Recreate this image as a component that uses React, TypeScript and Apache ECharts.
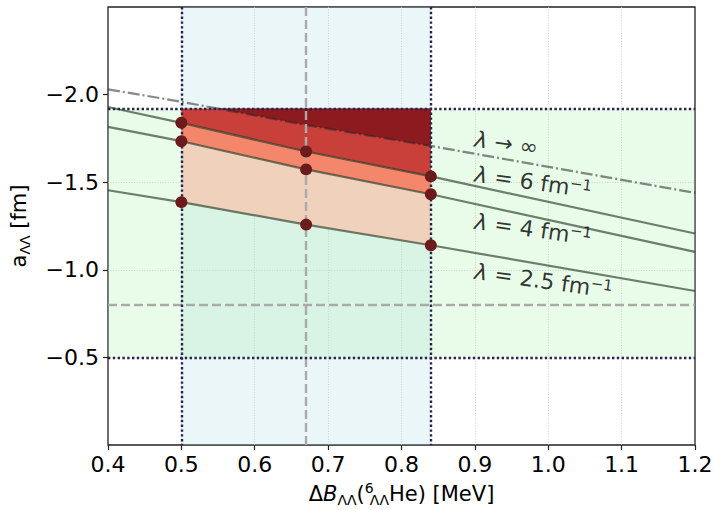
import React, { useEffect, useRef } from "react";
import * as echarts from "echarts";

// ---- data ----
const lineX = [0.4, 0.5, 0.67, 0.84, 1.2];
const lambda25 = [-1.454, -1.386, -1.258, -1.14, -0.879];
const lambda4 = [-1.816, -1.734, -1.573, -1.431, -1.102];
const lambda6 = [-1.929, -1.839, -1.675, -1.533, -1.207];
const lambdaInf = [-2.03, -1.959, -1.826, -1.707, -1.439];

const pointX = [0.5, 0.67, 0.84];
const points25 = [-1.386, -1.258, -1.14];
const points4 = [-1.734, -1.573, -1.431];
const points6 = [-1.839, -1.675, -1.533];
const pointsInf = [-1.959, -1.826, -1.707];

const bRange = [0.5, 0.84];
const bCentral = 0.67;
const aRange = [-1.92, -0.5];
const aCentral = -0.8;

const yTickValues = [-2.0, -1.5, -1.0, -0.5];

const curveLabelX = [0.9, 0.9, 0.9, 0.9];
const curveLabelY = [-1.746, -1.546, -1.277, -0.991];
const curveLabelText = [
  "{l|λ} → ∞",
  "{l|λ} = 6 fm{p|−1}",
  "{l|λ} = 4 fm{p|−1}",
  "{l|λ} = 2.5 fm{p|−1}",
];

const FONT = "DejaVu Sans";

function between(xs: number[], top: number[], bottom: number[]) {
  const upper = xs.map((x, i) => [x, top[i]]);
  const lower = xs.map((x, i) => [x, bottom[i]]).reverse();
  return upper.concat(lower);
}

// region between a level and a curve, only where the curve lies below the level (larger value)
function belowLevel(xs: number[], ys: number[], level: number) {
  const pts: number[][] = [];
  for (let i = 0; i < xs.length; i++) {
    if (i > 0) {
      const y0 = ys[i - 1];
      const y1 = ys[i];
      if ((y0 - level) * (y1 - level) < 0) {
        const t = (level - y0) / (y1 - y0);
        pts.push([xs[i - 1] + t * (xs[i] - xs[i - 1]), level]);
      }
    }
    if (ys[i] >= level) pts.push([xs[i], ys[i]]);
  }
  if (!pts.length) return pts;
  const first = pts[0][0];
  const last = pts[pts.length - 1][0];
  pts.push([last, level]);
  if (pts[0][1] !== level) pts.push([first, level]);
  return pts;
}

const topLevel = pointX.map(() => aRange[0]);

const fills = [
  { color: "#efd1bc", pts: between(pointX, points4, points25) },
  { color: "#f3866b", pts: between(pointX, points6, points4) },
  { color: "#c9403a", pts: between(pointX, topLevel, points6) },
  { color: "#8c1a1f", pts: belowLevel(pointX, pointsInf, aRange[0]) },
];

const subStyle = { fontSize: 14, lineHeight: 14, verticalAlign: "bottom", fontFamily: FONT, color: "#000" };
const mainStyle = { fontSize: 21, lineHeight: 26, fontFamily: FONT, color: "#000" };

export default function App() {
  const ref = useRef<HTMLDivElement>(null);
  useEffect(() => {
    if (!ref.current) return;
    const chart = echarts.init(ref.current, undefined, { renderer: "svg" });
    const dotted = { color: "#24244e", width: 2.4, type: [2.4, 2.4] };
    const dashed = { color: "#aaaaaa", width: 2.4, type: [9, 4] };
    const curveStyle = { color: "rgba(40,60,40,0.65)", width: 2.2 };
    chart.setOption({
      animation: false,
      backgroundColor: "#ffffff",
      grid: {
        left: 108,
        right: 19,
        top: 7,
        bottom: 65,
        containLabel: false,
        outerBoundsMode: "none",
        show: true,
        borderColor: "#222",
        borderWidth: 1.3,
        backgroundColor: "transparent",
      },
      xAxis: {
        type: "value",
        min: 0.4,
        max: 1.2,
        interval: 0.1,
        name: "{n|Δ}{i|B}{s|ΛΛ}{n|(}{p|6}{s|ΛΛ}{n|He) [MeV]}",
        nameLocation: "middle",
        nameGap: 36,
        nameTextStyle: {
          fontFamily: FONT,
          rich: {
            n: mainStyle,
            i: { ...mainStyle, fontStyle: "italic" },
            s: subStyle,
            p: {
              fontSize: 14,
              lineHeight: 20,
              verticalAlign: "top",
              align: "left",
              width: 1,
              padding: [0, 0, 0, 4],
              fontFamily: FONT,
              color: "#000",
            },
          },
        },
        axisLine: { show: false },
        axisTick: { show: true, length: 5, lineStyle: { color: "#222", width: 1.2 } },
        axisLabel: {
          fontSize: 22,
          fontFamily: FONT,
          color: "#000",
          margin: 8,
          formatter: (v: number) => v.toFixed(1),
        },
        splitLine: {
          show: true,
          showMinLine: false,
          showMaxLine: false,
          lineStyle: { color: "#c8c8c8", width: 0.8, type: [1, 1.6] },
        },
      },
      yAxis: {
        type: "value",
        min: -2.5,
        max: 0,
        interval: 0.5,
        inverse: true,
        name: "{n|a}{s|ΛΛ}{n| [fm]}",
        nameLocation: "middle",
        nameRotate: 90,
        nameGap: 76,
        nameTextStyle: {
          fontFamily: FONT,
          rich: { n: mainStyle, s: subStyle },
        },
        axisLine: { show: false },
        axisTick: {
          show: true,
          length: 5,
          customValues: yTickValues,
          lineStyle: { color: "#222", width: 1.2 },
        },
        axisLabel: {
          fontSize: 22,
          fontFamily: FONT,
          color: "#000",
          margin: 9,
          customValues: yTickValues,
          formatter: (v: number) =>
            Math.abs(v) < 1e-9 || Math.abs(v + 2.5) < 1e-9 ? "" : (v < 0 ? "−" : "") + Math.abs(v).toFixed(1),
        },
        splitLine: {
          show: true,
          showMinLine: false,
          showMaxLine: false,
          lineStyle: { color: "#c8c8c8", width: 0.8, type: [1, 1.6] },
        },
      },
      series: [
        {
          type: "line",
          data: [],
          silent: true,
          markArea: {
            silent: true,
            z: 1,
            data: [
              [
                { xAxis: bRange[0], itemStyle: { color: "rgba(173,216,230,0.24)" } },
                { xAxis: bRange[1] },
              ],
              [
                { yAxis: aRange[0], itemStyle: { color: "rgba(144,238,144,0.2)" } },
                { yAxis: aRange[1] },
              ],
            ],
          },
          markLine: {
            silent: true,
            symbol: "none",
            z: 5,
            label: { show: false },
            data: [
              { xAxis: bCentral, lineStyle: dashed },
              { yAxis: aCentral, lineStyle: dashed },
              { xAxis: bRange[0], lineStyle: dotted },
              { xAxis: bRange[1], lineStyle: dotted },
              { yAxis: aRange[0], lineStyle: dotted },
              { yAxis: aRange[1], lineStyle: dotted },
            ],
          },
        },
        {
          type: "custom",
          coordinateSystem: "cartesian2d",
          silent: true,
          z: 2,
          data: [[bRange[0], aRange[0]]],
          renderItem: (_params: any, api: any) => ({
            type: "group",
            children: fills
              .filter((f) => f.pts.length > 2)
              .map((f) => ({
                type: "polygon",
                shape: { points: f.pts.map((p) => api.coord(p)) },
                style: { fill: f.color, stroke: "none" },
              })),
          }),
        },
        ...[lambda25, lambda4, lambda6].map((arr) => ({
          type: "line",
          showSymbol: false,
          silent: true,
          z: 3,
          data: lineX.map((x, i) => [x, arr[i]]),
          lineStyle: curveStyle,
        })),
        {
          type: "line",
          showSymbol: false,
          silent: true,
          z: 3,
          data: lineX.map((x, i) => [x, lambdaInf[i]]),
          lineStyle: { color: "rgba(40,40,40,0.55)", width: 2.2, type: [12, 3, 2, 3] },
        },
        {
          type: "scatter",
          silent: true,
          z: 6,
          symbolSize: 12,
          itemStyle: { color: "#6b1b1b", opacity: 1 },
          data: [points6, points4, points25].flatMap((arr) => pointX.map((x, i) => [x, arr[i]])),
        },
        {
          type: "scatter",
          silent: true,
          z: 7,
          symbolSize: 0.1,
          itemStyle: { color: "transparent" },
          data: curveLabelX.map((x, i) => [x, curveLabelY[i]]),
          label: {
            show: true,
            position: [0, 0],
            align: "left",
            verticalAlign: "middle",
            rotate: -8,
            fontSize: 22,
            lineHeight: 24,
            fontFamily: FONT,
            color: "#000",
            formatter: (p: any) => curveLabelText[p.dataIndex],
            rich: {
              l: { fontSize: 22, lineHeight: 24, fontStyle: "italic", fontFamily: FONT, color: "#000" },
              p: { fontSize: 15, lineHeight: 16, verticalAlign: "top", fontFamily: FONT, color: "#000" },
            },
          },
        },
      ],
    });
    return () => chart.dispose();
  }, []);
  return (
    <div
      ref={ref}
      style={{ position: "fixed", left: 0, top: 0, width: 714, height: 510 }}
    />
  );
}
